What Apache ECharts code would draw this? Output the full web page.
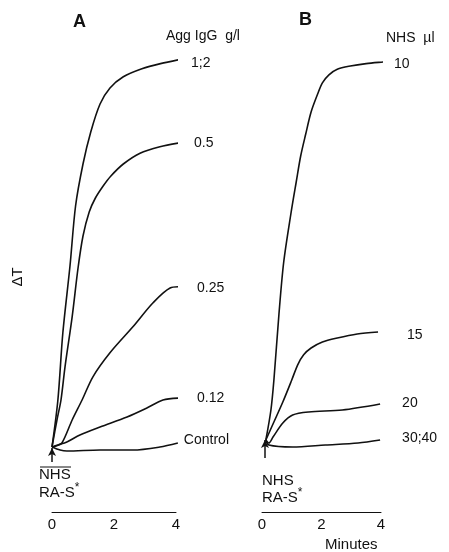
<!DOCTYPE html>
<html><head><meta charset="utf-8">
<script src="https://cdn.jsdelivr.net/npm/echarts@6/dist/echarts.min.js"></script>
<style>html,body{margin:0;padding:0;background:#fff}#c{width:449px;height:552px}</style>
</head><body><div id="c"></div>
<script>
// Panel A: Agg IgG g/l  (x = minutes, y = ΔT arbitrary units)
const aNames = ['1;2', '0.5', '0.25', '0.12', 'Control'];
const a12 = [[0,0.75],[0.19,12.5],[0.35,29.3],[0.58,46],[0.76,61],[1.0,71.5],[1.25,79.5],[1.55,86.5],[1.87,90.5],[2.3,93.3],[2.9,95.3],[3.5,96.6],[4.23,97.8]];
const a05 = [[0,0.75],[0.16,7.5],[0.29,12.5],[0.42,20.8],[0.65,33.3],[0.84,45.5],[1.0,53.5],[1.2,59.5],[1.4,63],[1.65,66],[1.9,68.5],[2.3,71.5],[2.84,74.2],[3.48,75.8],[4.13,76.8]];
const a025 = [[0,0.75],[0.13,1],[0.32,1.75],[0.65,7.5],[0.97,12.5],[1.32,18.3],[1.87,24.3],[2.61,30.8],[3.26,36.8],[3.81,40.5],[4.13,40.8]];
const a012 = [[0,0.75],[0.19,1.25],[0.48,2],[0.9,3.75],[1.55,5.75],[2.42,8.25],[3.06,10.5],[3.58,12.5],[4.13,13]];
const aCtl = [[0,0.75],[0.26,0],[0.48,-0.25],[1.55,0],[2.61,0],[3.48,0.75],[4.06,1.75]];
// Panel B: NHS µl
const bNames = ['10', '15', '20', '30;40'];
const b10 = [[0.13,2.5],[0.3,10],[0.4,17.5],[0.57,34],[0.73,47],[0.97,59],[1.15,67],[1.3,73.5],[1.47,79],[1.65,84.5],[1.87,89],[2.03,91.8],[2.25,93.8],[2.53,95.2],[2.97,96],[3.5,96.6],[4.07,97],[4.53,97.3]];
const b15 = [[0.13,2.5],[0.4,7],[0.7,12],[1.0,17.5],[1.2,21.3],[1.4,23.8],[1.65,25.5],[2.03,27],[2.53,28],[3.2,29],[3.9,29.5]];
const b20 = [[0.13,2.5],[0.23,1.75],[0.37,3.25],[0.7,6.75],[1.03,8.75],[1.57,9.5],[2.7,10],[3.97,11.5]];
const b3040 = [[0.13,2.5],[0.23,1.25],[1.03,0.75],[2.13,1.25],[3.23,1.75],[3.97,2.5]];
const xTicks = [0, 2, 4];
const arrowA = [[0,-3],[0,0.5]];
const arrowB = [[0.1,-2],[0.1,2.5]];

const FONT = 'Liberation Sans, Arial, sans-serif';
const INK = '#111';

function mkSeries(name, data, idx, dist, dy, extra) {
  return Object.assign({
    type: 'line', name: name, data: data, xAxisIndex: idx, yAxisIndex: idx,
    showSymbol: false, smooth: 0.3, clip: false,
    lineStyle: { color: INK, width: 1.6 },
    endLabel: { show: true, formatter: name, distance: dist, offset: [0, dy],
      color: INK, fontSize: 14, fontFamily: FONT },
    emphasis: { disabled: true }, animation: false
  }, extra || {});
}
function arrowLine(pts) {
  return { silent: true, symbol: ['none', 'arrow'], symbolSize: [6, 8], animation: false,
    lineStyle: { color: INK, width: 1.5, type: 'solid' }, label: { show: false },
    data: [[{ coord: pts[0] }, { coord: pts[1] }]] };
}
function xAx(idx) {
  return { type: 'value', gridIndex: idx, min: xTicks[0], max: xTicks[xTicks.length-1], interval: 2,
    axisLine: { onZero: false, lineStyle: { color: INK, width: 1 } }, axisTick: { show: false },
    splitLine: { show: false },
    axisLabel: { color: INK, fontSize: 15, fontFamily: FONT, margin: 5 } };
}
function yAx(idx) { return { type: 'value', gridIndex: idx, min: -15.5, max: 100, show: false }; }

const chart = echarts.init(document.getElementById('c'), null, { renderer: 'canvas' });
chart.setOption({
  backgroundColor: '#fff',
  animation: false,
  grid: [
    { left: 52, right: 273, top: 50, bottom: 40 },
    { left: 262, right: 68, top: 50, bottom: 40 }
  ],
  xAxis: [xAx(0), xAx(1)],
  yAxis: [yAx(0), yAx(1)],
  series: [
    mkSeries(aNames[0], a12, 0, 13, 3, { markLine: arrowLine(arrowA) }),
    mkSeries(aNames[1], a05, 0, 16, 0),
    mkSeries(aNames[2], a025, 0, 19, 1),
    mkSeries(aNames[3], a012, 0, 19, 0),
    mkSeries(aNames[4], aCtl, 0, 6, -3),
    mkSeries(bNames[0], b10, 1, 11, 2, { markLine: arrowLine(arrowB) }),
    mkSeries(bNames[1], b15, 1, 29, 3),
    mkSeries(bNames[2], b20, 1, 22, -1),
    mkSeries(bNames[3], b3040, 1, 22, -2)
  ],
  graphic: [
    { type: 'text', left: 73, top: 13, style: { text: 'A', fontSize: 18, fontWeight: 'bold', fontFamily: FONT, fill: INK } },
    { type: 'text', left: 299, top: 11, style: { text: 'B', fontSize: 18, fontWeight: 'bold', fontFamily: FONT, fill: INK } },
    { type: 'text', left: 166, top: 29, style: { text: 'Agg IgG  g/l', fontSize: 14, fontFamily: FONT, fill: INK } },
    { type: 'text', left: 386, top: 31, style: { text: 'NHS  µl', fontSize: 14, fontFamily: FONT, fill: INK } },
    { type: 'text', x: 18, y: 277, rotation: Math.PI / 2,
      style: { text: 'ΔT', fontSize: 15, fontFamily: FONT, fill: INK, align: 'center', verticalAlign: 'middle' } },
    { type: 'text', left: 39, top: 467, style: { text: 'NHS', fontSize: 15, fontFamily: FONT, fill: INK } },
    { type: 'line', shape: { x1: 40, y1: 467, x2: 71, y2: 467 }, style: { stroke: INK, lineWidth: 1 } },
    { type: 'text', left: 39, top: 482, style: { text: 'RA-S{s|*}', fontSize: 15, fontFamily: FONT, fill: INK,
        rich: { s: { fontSize: 12, fontFamily: FONT, fill: INK, verticalAlign: 'top', padding: [0,0,10,0] } } } },
    { type: 'text', left: 262, top: 473, style: { text: 'NHS', fontSize: 15, fontFamily: FONT, fill: INK } },
    { type: 'text', left: 262, top: 487, style: { text: 'RA-S{s|*}', fontSize: 15, fontFamily: FONT, fill: INK,
        rich: { s: { fontSize: 12, fontFamily: FONT, fill: INK, verticalAlign: 'top', padding: [0,0,10,0] } } } },
    { type: 'text', left: 325, top: 537, style: { text: 'Minutes', fontSize: 15, fontFamily: FONT, fill: INK } }
  ]
});
</script></body></html>
